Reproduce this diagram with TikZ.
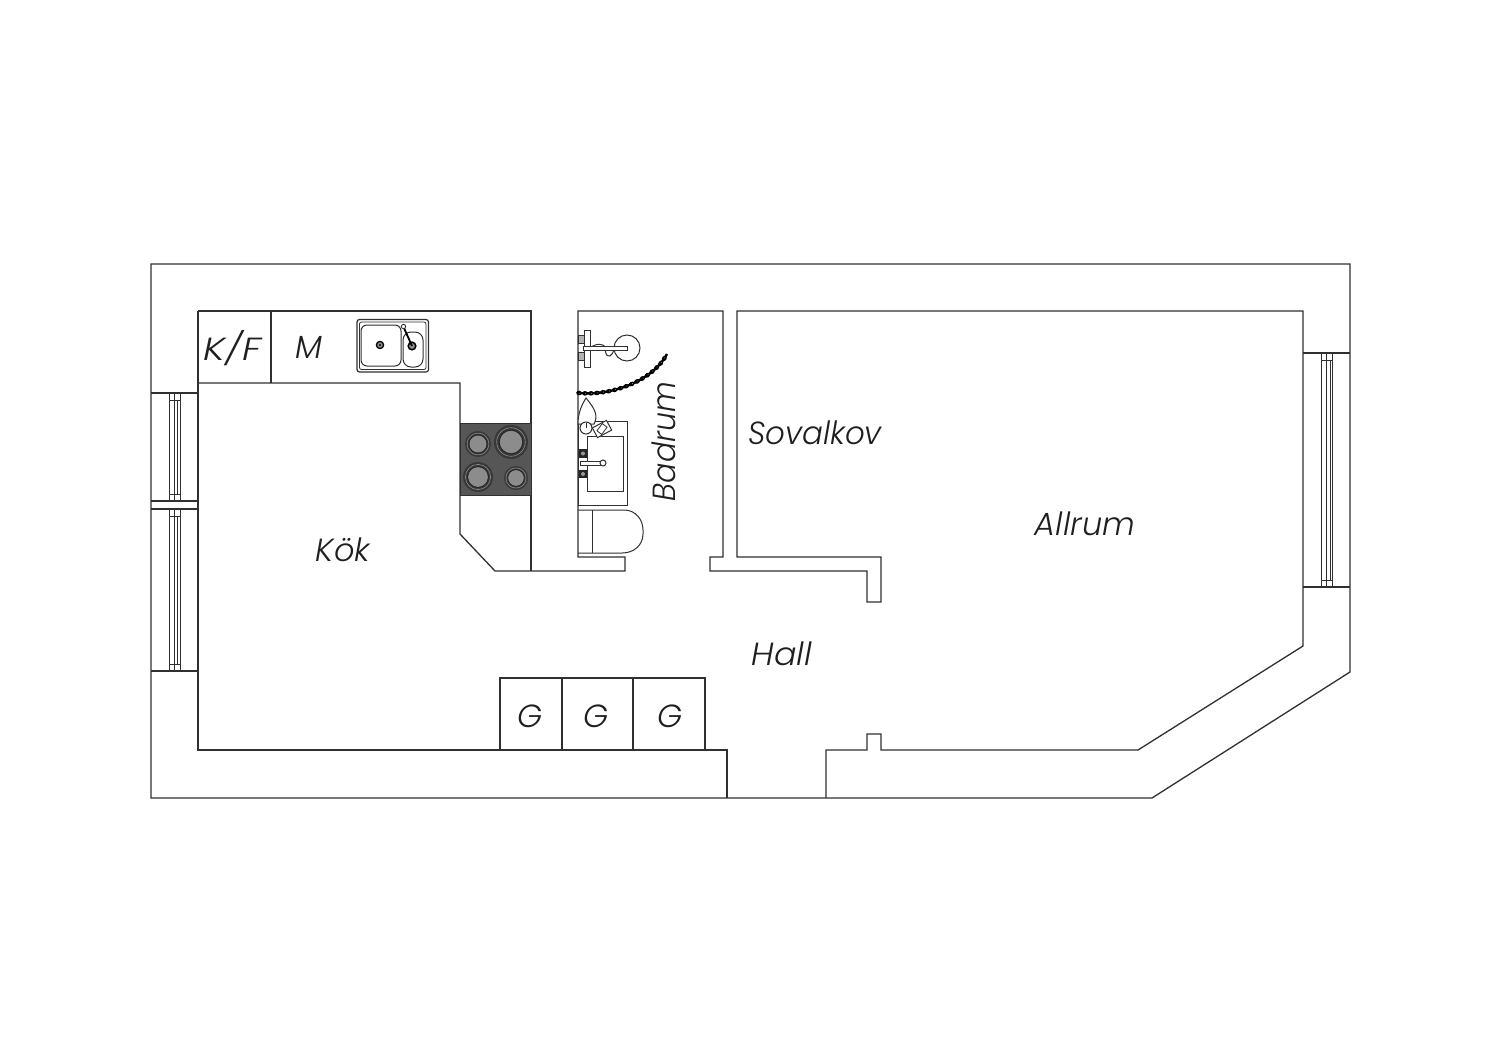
\documentclass[tikz,border=0pt]{standalone}
\usepackage{fontspec}
\usepackage{graphicx}
\usetikzlibrary{decorations.markings}
\newfontfamily\labfont{Poppins Light Italic}
\definecolor{wall}{HTML}{303030}
\definecolor{hob}{HTML}{565656}
\definecolor{plate}{HTML}{8C8C8C}
\tikzset{
  wallline/.style={draw=wall,line width=1.3pt,line join=miter},
  thin line/.style={draw=wall,line width=1pt},
  fine/.style={draw=wall,line width=.8pt},
  roomlabel/.style={font=\labfont\fontsize{32}{36}\selectfont,text=black!88,inner sep=0pt,anchor=center},
  chain/.style={draw=black,line width=2.4pt,decoration={markings,mark=between positions 0 and 1 step 6pt with {
    \fill[black] (0,0) ellipse (2.8pt and 2.3pt);
    \fill[black!35] (.8pt,0) circle (.5pt);}},postaction={decorate}}
}
\newcommand{\burner}[3]{%
  \fill[black!78] (#1,#2) circle (#3);
  \draw[draw=black!45,line width=.6pt] (#1,#2) circle ({#3*.84});
  \fill[plate] (#1,#2) circle ({#3*.66});
  \draw[draw=black!85,line width=.7pt] (#1,#2) circle ({#3*.7});
}
\newcommand{\winframe}[6]{% x1 xmid xmid2 x2 y1 y2
  \draw[thin line] (#1,#5) rectangle (#4,#6);
  \draw[thin line] (#2,#5) -- (#2,#6);
  \draw[fine] (#3,{#5+7}) -- (#3,{#6-7});
  \draw[fine] (#1,{#5+7}) -- (#4,{#5+7});
  \draw[fine] (#1,{#6-7}) -- (#4,{#6-7});
}
\begin{document}
\begin{tikzpicture}[x=1pt,y=-1pt]
\useasboundingbox (0,0) rectangle (1500,1060);
\fill[white] (0,0) rectangle (1500,1060);
% outer wall
\draw[wallline] (151,264) -- (1350,264) -- (1350,672) -- (1152,798) -- (151,798) -- cycle;
% interior outline
\draw[wallline] (198,311) -- (531,311) -- (531,571);
\draw[wallline] (198,383) -- (460,383) -- (460,534) -- (495,571) -- (625,571) -- (625,557) -- (578,557) -- (578,311) -- (723,311) -- (723,557) -- (710,557) -- (710,571) -- (867,571) -- (867,602) -- (881,602) -- (881,557) -- (737,557) -- (737,311) -- (1303,311) -- (1303,646) -- (1138,750) -- (881,750) -- (881,734) -- (867,734) -- (867,750) -- (826,750) -- (826,798);
\draw[wallline] (727,798) -- (727,750) -- (198,750) -- (198,311);
\draw[wallline] (271,311) -- (271,383);
% wardrobes
\draw[wallline] (500,750) -- (500,678) -- (705,678) -- (705,750);
\draw[wallline] (562,678) -- (562,750);
\draw[wallline] (633,678) -- (633,750);
% windows
\foreach \ya in {393,501,509,671} \draw[wallline] (151,\ya) -- (198,\ya);
\winframe{169}{174}{177}{180}{393}{501}
\winframe{169}{174}{177}{180}{509}{671}
\foreach \ya in {353,587} \draw[wallline] (1303,\ya) -- (1350,\ya);
\winframe{1321}{1326}{1330}{1332}{353}{587}
% hob
\fill[hob] (460,423) rectangle (531,495);
\draw[thin line] (460,423) rectangle (531,495);
\burner{478}{444}{13}
\burner{511}{442}{17}
\burner{478}{477}{15}
\burner{516}{478}{12}
% kitchen sink
\draw[draw=wall,line width=1.2pt,rounded corners=2.5pt] (357,319.5) rectangle (428.5,372);
\draw[fine,rounded corners=2pt] (359.5,322) rectangle (426,369.5);
\draw[thin line,rounded corners=6pt] (361,325) rectangle (401,366);
\draw[thin line,rounded corners=8pt] (403,332) rectangle (423,367);
\draw[draw=black,line width=1.3pt,fill=plate] (380,345) circle (3.6);
\fill[black] (380,345) circle (1.2);
\draw[draw=black,line width=1.5pt,fill=plate] (412,346) circle (3.8);
\draw[draw=black,line width=1.8pt] (404,328) -- (412,346);
\draw[fine,fill=white] (403.5,326.5) circle (2.2);
% shower
\draw[thin line] (627,348) circle (13);
\draw[thin line,rounded corners=3pt] (590,348) .. controls (597,342) and (604,345) .. (605,349) .. controls (607,359) and (613,357) .. (614,348);
\draw[fine,fill=black!30] (578,335) rectangle (584,343);
\draw[fine,fill=black!30] (578,352) rectangle (584,360);
\draw[thin line,fill=white] (584,330) rectangle (590,367);
\draw[thin line,fill=white] (583,346) rectangle (627,350);
% curtain
\draw[chain] (579,393) .. controls (610,396) and (652,382) .. (667,354);
% hand basin counter
\draw[thin line] (578,421) rectangle (627,505);
\draw[thin line] (587,436) rectangle (623,491);
\draw[thin line,fill=white] (586,398) .. controls (581,406) and (578,414) .. (578,424) -- (594,424) .. controls (598,416) and (596,410) .. cycle;
\draw[thin line,fill=white] (586,428) circle (6);
\draw[fine] (586,428) -- (586,423);
\begin{scope}[shift={(602,429)},rotate=28]
  \draw[thin line,fill=white] (-8,-5.5) rectangle (8,5.5);
  \draw[fine,fill=white,rotate=25] (-4.5,-3) rectangle (4.5,3);
\end{scope}
% taps
\fill[black!85] (579,449) rectangle (587,458);
\fill[black!85] (579,470) rectangle (587,478);
\fill[black!40] (583,453.5) circle (2);
\fill[black!40] (583,474) circle (2);
\draw[thin line,fill=white] (580,461.5) rectangle (601,465);
\draw[thin line,fill=white] (603,463) circle (3);
% toilet
\draw[thin line] (578,510) -- (624,510) .. controls (636,510) and (643,520) .. (643,530) -- (643,534) .. controls (643,545) and (634,553) .. (622,553) -- (578,553);
\draw[thin line] (592,510) -- (592,553);
% labels
\node[roomlabel] (kf) at (232.5,348) {\scalebox{1.2}[1]{K/F}};
\node[roomlabel] (m) at (309,347) {M};
\node[roomlabel] (kok) at (343,550) {Kök};
\node[roomlabel,rotate=90] (bad) at (664,441.5) {\scalebox{.94}[1]{Badrum}};
\node[roomlabel] (sov) at (815,433) {\scalebox{.965}[1]{Sovalkov}};
\node[roomlabel] (all) at (1085,524) {Allrum};
\node[roomlabel] (hall) at (782,654) {\scalebox{1.04}[1]{Hall}};
\node[roomlabel] (g1) at (530,716) {G};
\node[roomlabel] (g2) at (596,716) {G};
\node[roomlabel] (g3) at (670,716) {G};
\end{tikzpicture}
\end{document}
